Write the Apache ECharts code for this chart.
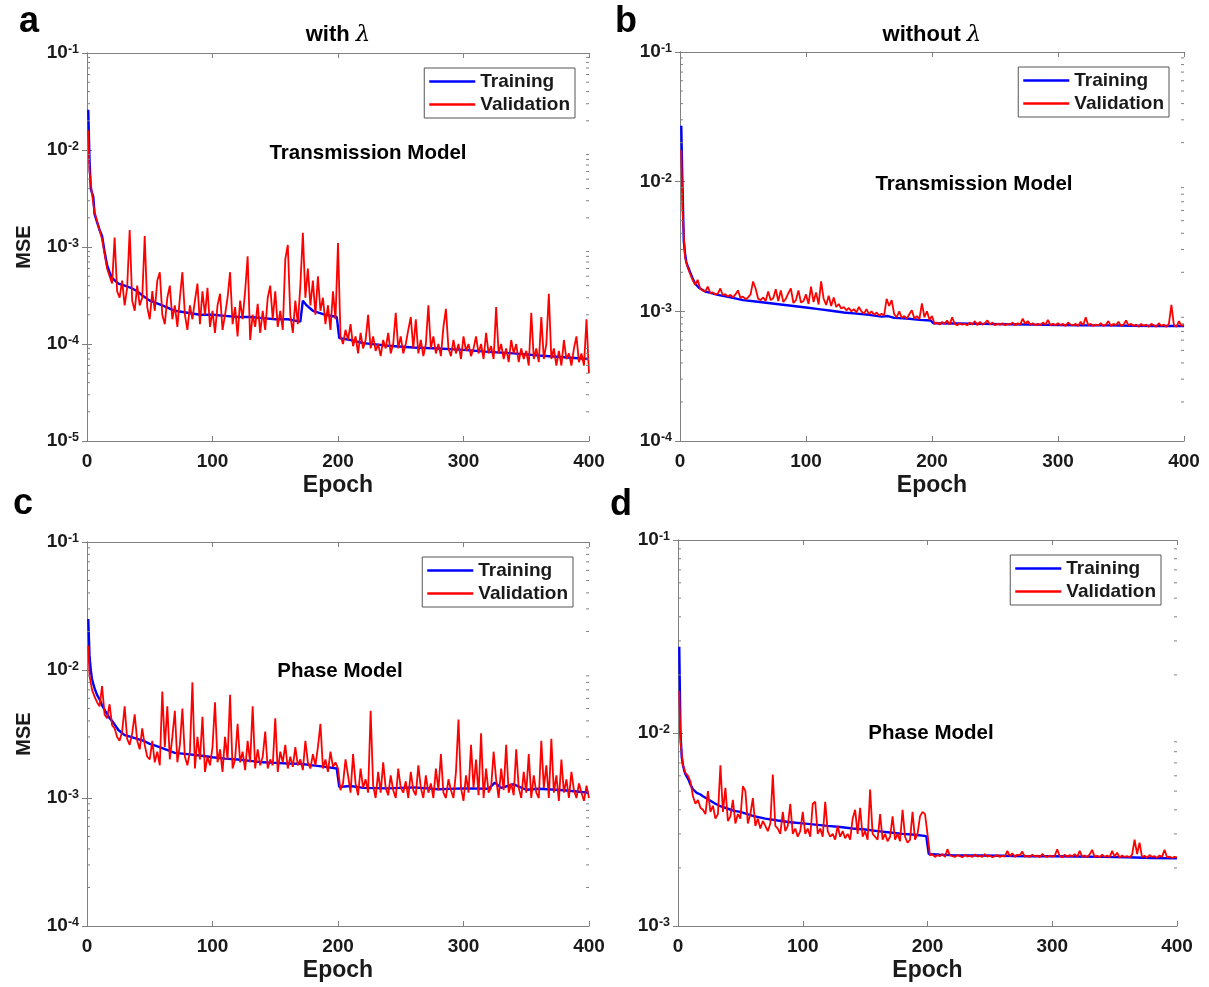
<!DOCTYPE html>
<html><head><meta charset="utf-8">
<script src="https://cdn.jsdelivr.net/npm/echarts@6/dist/echarts.min.js"></script>
<style>html,body{margin:0;padding:0;background:#fff}#c{width:1209px;height:987px}</style>
</head><body><div id="c"></div>
<script>
// ---------------- data ----------------
const epochTicks = [0, 100, 200, 300, 400];
const seriesNames = ['Training', 'Validation'];
const panelLetters = ['a', 'b', 'c', 'd'];
const columnTitles = ['with ', 'without '];
const modelLabels = ['Transmission Model', 'Transmission Model', 'Phase Model', 'Phase Model'];
const yRanges = [[1e-5, 1e-1], [1e-4, 1e-1], [1e-4, 1e-1], [1e-3, 1e-1]];
const minorMantissas = [2, 3, 4, 5, 6, 7, 8, 9];
const unit = 1e-5; // all MSE values below are in units of 1e-5

// validation is recorded at epoch 1 and then every 2 epochs
const valEpochs = [1];
for (let e = 2; e <= 400; e += 2) valEpochs.push(e);

// ---- panel a : with lambda, transmission ----
const trainEpochsA = [1,2,3,4,5,6,8,10,12,14,16,18,20,25,30,35,40,45,50,60,70,80,90,100,110,120,130,140,150,160,170,171,172,175,180,190,199,201,210,220,240,260,280,300,320,340,360,380,400];
const trainA = [2600,800,400,360,330,220,180,150,130,90,65,55,48,42,40,38,35,31,28,25,22,21,20,20,19.5,19,19,18.5,18,18,17,22,28,25,22,20,19,11.5,11,10.2,9.6,9.2,9,8.7,8.3,8,7.6,7.3,7];
const valA = [1600,
 600,350,230,185,150,120,85,60,50,42,
 125,35,30,45,25,38,150,28,22,40,
 25,30,130,24,18,35,22,45,55,20,
 16,30,40,18,25,15,30,55,20,14,
 25,18,28,42,16,35,20,38,15,22,
 13,25,33,14,20,30,55,16,24,12,
 28,18,35,80,11,20,15,26,13,22,
 14,30,40,18,35,15,22,14,75,105,
 20,13,28,16,40,140,30,60,25,45,
 20,50,22,30,16,25,14,35,18,110,
 12,10,14,11,16,9.5,12,8,13,9,
 11,20,9,12,8.5,10,7.5,11,9,13,
 8,10,21,9,12,8,10,14,19,9,
 18,8,11,7.5,10,25,9,12,8,10,
 7.5,15,23,9,7.5,11,8,10,7,12,
 8.5,10,7.5,9,12,8,10,7,13,8,
 9.5,7,24,8,10,7,9,6.5,11,8,
 10,6.5,9,7,8.5,6,21,7,9,6.5,
 19,7,10,33,7,9,6,8.5,6,11,
 7,8,6,9,12,6.5,8,6,18,5];

// ---- panel b : without lambda, transmission ----
const trainEpochsB = [1,2,3,4,5,6,8,10,12,15,18,20,25,30,40,50,60,70,80,90,100,110,120,130,140,150,160,165,170,180,190,199,201,220,240,260,280,300,320,340,360,380,400];
const trainB = [2700,900,350,280,240,225,200,180,164,152,146,142,138,134,128,122,119,116,113,110,107,104,101,98,96,94,91,92,89,88,86,85,81,80.5,80,79.5,79,78.5,78,78,77.5,77,77];
const valB = [1750,
 600,260,220,195,175,160,175,150,145,142,
 155,138,140,135,137,150,133,136,130,134,
 128,135,145,127,130,124,128,135,170,150,
 125,122,128,120,142,122,126,148,120,145,
 118,125,138,150,116,122,145,117,120,135,
 114,155,118,140,113,170,125,112,132,110,
 128,108,114,105,108,102,106,100,104,98,
 108,100,96,104,95,100,94,98,93,96,
 93,125,110,122,95,90,100,89,92,88,
 95,102,88,92,87,115,90,100,86,92,
 80,82,79,83,80,85,79,90,80,78,
 81,79,80,78,82,79,84,78,83,79,
 81,85,79,82,78,80,79,81,78,80,
 79,82,78,81,79,88,80,84,79,81,
 78,80,78,82,79,86,78,80,78,81,
 78,80,77,82,79,78,80,77,83,78,
 90,78,80,77,79,78,81,77,79,84,
 77,80,78,83,77,79,85,78,80,77,
 79,76,80,77,79,76,80,78,76,81,
 77,79,76,80,112,78,76,84,77,79];

// ---- panel c : with lambda, phase ----
const trainEpochsC = [1,2,3,4,5,6,8,10,12,15,18,20,25,30,35,40,45,50,55,60,70,80,90,100,110,120,130,140,150,160,170,180,190,199,201,210,220,240,260,280,300,320,325,330,340,350,360,380,400];
const trainC = [2500,1300,1000,850,780,720,640,590,530,470,420,400,340,310,300,290,280,265,255,245,225,220,215,208,203,200,195,190,188,186,185,180,175,170,122,124,120,119,121,117,119,118,132,120,128,116,118,115,110];
const valC = [1550,
 900,700,620,560,520,750,450,420,540,370,
 350,300,280,330,520,290,260,320,450,280,
 240,350,260,210,200,280,190,230,180,680,
 250,520,200,300,480,190,260,500,210,180,
 230,800,170,300,200,430,160,210,180,250,
 560,190,240,160,300,200,640,170,200,380,
 190,230,165,280,190,520,170,240,180,210,
 330,170,200,180,420,160,230,190,260,170,
 210,175,250,180,200,165,280,190,170,220,
 180,250,380,170,200,160,230,175,190,170,
 115,130,200,150,110,220,130,105,170,120,
 140,110,480,125,100,160,110,190,120,105,
 150,115,100,170,120,110,135,100,160,115,
 105,180,120,100,150,110,130,100,170,115,
 220,110,100,140,115,100,160,410,120,95,
 150,110,260,120,200,105,320,100,170,110,
 120,230,140,100,170,115,260,110,130,105,
 240,120,100,160,110,220,100,150,110,100,
 280,120,180,100,290,110,150,95,200,110,
 140,100,160,115,100,130,110,95,125,100];

// ---- panel d : without lambda, phase ----
const trainEpochsD = [1,2,3,4,5,6,8,10,12,15,18,20,25,30,35,40,45,50,60,70,80,90,100,110,120,130,140,150,160,170,180,190,199,201,210,220,240,260,280,300,320,340,360,380,400];
const trainD = [2800,1000,750,680,640,610,580,540,510,490,480,470,450,430,415,405,395,390,372,360,352,345,340,335,330,326,320,316,310,305,300,297,292,236,234,233,232,231,230,230,229,228,227,225,224];
const valD = [1650,
 900,680,620,600,560,470,430,450,410,400,
 380,500,390,420,360,380,680,390,520,350,
 370,450,340,380,360,530,500,340,380,460,
 330,360,320,350,330,310,340,610,330,320,
 300,390,310,330,430,300,320,290,310,390,
 300,320,290,430,440,300,320,290,440,310,
 290,300,280,330,290,310,285,300,280,360,
 400,300,410,290,310,280,510,300,290,280,
 380,280,300,275,290,370,280,300,275,400,
 290,270,280,390,280,300,370,390,380,300,
 232,235,228,233,230,236,228,250,232,230,
 228,233,230,227,234,229,231,228,235,229,
 231,228,236,229,232,227,230,233,228,231,
 229,245,230,238,228,234,232,243,229,231,
 228,234,229,232,227,236,230,228,232,229,
 231,250,230,227,234,228,233,229,236,228,
 245,229,232,227,235,248,228,231,227,234,
 228,232,227,245,229,240,226,232,228,230,
 227,234,280,236,270,227,231,226,233,228,
 230,226,232,228,248,227,229,225,228,227];

const trainEpochs = [trainEpochsA, trainEpochsB, trainEpochsC, trainEpochsD];
const trainVals = [trainA, trainB, trainC, trainD];
const valVals = [valA, valB, valC, valD];

// ---------------- layout / style ----------------
const FONT = '"Liberation Sans", Arial, Helvetica, sans-serif';
const TXT = '#1a1a1a';
const FRAME = '#808080';
const grids = [
  {left: 87, top: 53, width: 502, height: 388},
  {left: 680, top: 52, width: 504, height: 389},
  {left: 87, top: 542, width: 502, height: 384},
  {left: 678, top: 540, width: 499, height: 386}
];
const legendPos = [
  {right: 634, top: 68}, {right: 40, top: 67},
  {right: 636, top: 557}, {right: 48, top: 555}
];
const showYName = [true, false, true, false];

function pairs(xs, ys) { return ys.map((v, i) => [xs[i], v * unit]); }

const option = {
  animation: false,
  backgroundColor: '#fff',
  grid: [], xAxis: [], yAxis: [], series: [], legend: [], graphic: []
};

const yLabelFmt = v => '{b|10}{s|' + Math.round(Math.log10(v)) + '}';

grids.forEach((g, i) => {
  option.grid.push(Object.assign({containLabel: false, outerBoundsMode: 'none'}, g));
  const tickStyle = {show: true, inside: true, length: 5, lineStyle: {color: FRAME, width: 1}};
  const lineStyle = {show: true, lineStyle: {color: FRAME, width: 1}};
  option.xAxis.push({
    type: 'value', gridIndex: i, min: epochTicks[0], max: epochTicks[epochTicks.length - 1],
    interval: 100, position: 'bottom',
    axisLine: lineStyle, axisTick: tickStyle, splitLine: {show: false},
    axisLabel: {fontSize: 19, fontWeight: 'bold', color: TXT, fontFamily: FONT, margin: 11},
    name: 'Epoch', nameLocation: 'middle', nameGap: 33,
    nameTextStyle: {fontSize: 23, fontWeight: 'bold', color: TXT, fontFamily: FONT}
  });
  option.xAxis.push({
    type: 'value', gridIndex: i, min: 0, max: 400, interval: 100, position: 'top',
    axisLine: lineStyle, axisTick: tickStyle, splitLine: {show: false}, axisLabel: {show: false}
  });
  option.yAxis.push({
    type: 'log', logBase: 10, gridIndex: i, min: yRanges[i][0], max: yRanges[i][1], position: 'left',
    axisLine: lineStyle, axisTick: tickStyle, splitLine: {show: false},
    axisLabel: {
      formatter: yLabelFmt, margin: 8, color: TXT,
      rich: {
        b: {fontSize: 19, fontWeight: 'bold', color: TXT, fontFamily: FONT, lineHeight: 19, verticalAlign: 'bottom'},
        s: {fontSize: 12.5, fontWeight: 'bold', color: TXT, fontFamily: FONT, lineHeight: 12, verticalAlign: 'top', padding: [0, 0, 10, 0]}
      }
    },
    name: showYName[i] ? 'MSE' : '', nameLocation: 'middle', nameGap: 53, nameRotate: 90,
    nameTextStyle: {fontSize: 20, fontWeight: 'bold', color: TXT, fontFamily: FONT}
  });
  option.yAxis.push({
    type: 'log', logBase: 10, gridIndex: i, min: yRanges[i][0], max: yRanges[i][1], position: 'right',
    axisLine: lineStyle, axisTick: tickStyle, splitLine: {show: false}, axisLabel: {show: false}
  });

  const xi = 2 * i, yi = 2 * i;
  option.series.push({
    name: seriesNames[0], type: 'line', xAxisIndex: xi, yAxisIndex: yi,
    data: pairs(trainEpochs[i], trainVals[i]), symbol: 'none', smooth: false,
    color: '#0000ff', lineStyle: {color: '#0000ff', width: 2.4}, z: 2
  });
  option.series.push({
    name: seriesNames[1], type: 'line', xAxisIndex: xi, yAxisIndex: yi,
    data: pairs(valEpochs, valVals[i]), symbol: 'none', smooth: false,
    color: '#ff0000', lineStyle: {color: '#ff0000', width: 1.8}, z: 3
  });
  const minorVals = [];
  for (let e = Math.round(Math.log10(yRanges[i][0])); e < Math.round(Math.log10(yRanges[i][1])); e++) {
    minorMantissas.forEach(m => minorVals.push([0, m * Math.pow(10, e)]));
  }
  option.series.push({
    name: 'minor' + i, type: 'custom', xAxisIndex: xi, yAxisIndex: yi, silent: true, clip: false, z: 4,
    data: minorVals,
    renderItem: (params, api) => {
      const v = api.value(1);
      const l = api.coord([0, v]);
      const r = api.coord([400, v]);
      return {type: 'group', children: [
        {type: 'line', shape: {x1: l[0], y1: l[1], x2: l[0] + 3, y2: l[1]}, style: {stroke: FRAME, lineWidth: 1}},
        {type: 'line', shape: {x1: r[0] - 3, y1: r[1], x2: r[0], y2: r[1]}, style: {stroke: FRAME, lineWidth: 1}}
      ]};
    }
  });
  option.legend.push(Object.assign({
    data: seriesNames.map(n => ({name: n})), orient: 'vertical', selectedMode: false,
    icon: 'rect', itemWidth: 46, itemHeight: 2.5, itemGap: 0,
    textStyle: {fontSize: 19, fontWeight: 'bold', color: TXT, fontFamily: FONT, lineHeight: 23},
    borderColor: '#555', borderWidth: 1, borderRadius: 0, padding: [2, 5, 2, 5], backgroundColor: '#fff'
  }, legendPos[i]));
});

const letterPos = [[19, 22], [615, 22], [13, 504], [610, 505]];
panelLetters.forEach((t, i) => option.graphic.push({
  type: 'text', x: letterPos[i][0], y: letterPos[i][1], silent: true,
  style: {text: t, fill: '#000', font: 'bold 36px ' + FONT, textAlign: 'left', textVerticalAlign: 'middle', align: 'left', verticalAlign: 'middle'}
}));
const titleX = [338, 932];
columnTitles.forEach((t, i) => option.graphic.push({
  type: 'text', x: titleX[i], y: 35, silent: true,
  style: {
    text: '{t|' + t + '}{l|λ}', textAlign: 'center', textVerticalAlign: 'middle', align: 'center', verticalAlign: 'middle',
    rich: {
      t: {fontSize: 22, fontWeight: 'bold', fontFamily: FONT, fill: '#000', color: '#000'},
      l: {fontSize: 23, fontStyle: 'italic', fontFamily: '"DejaVu Serif", serif', fill: '#000', color: '#000'}
    }
  }
}));
const labelPos = [[368, 153], [974, 184], [340, 671], [931, 733]];
modelLabels.forEach((t, i) => option.graphic.push({
  type: 'text', x: labelPos[i][0], y: labelPos[i][1], silent: true,
  style: {text: t, fill: '#000', font: 'bold 20.5px ' + FONT, textAlign: 'center', textVerticalAlign: 'middle', align: 'center', verticalAlign: 'middle'}
}));

const chart = echarts.init(document.getElementById('c'), null, {renderer: 'canvas'});
chart.setOption(option);
</script>
</body></html>
